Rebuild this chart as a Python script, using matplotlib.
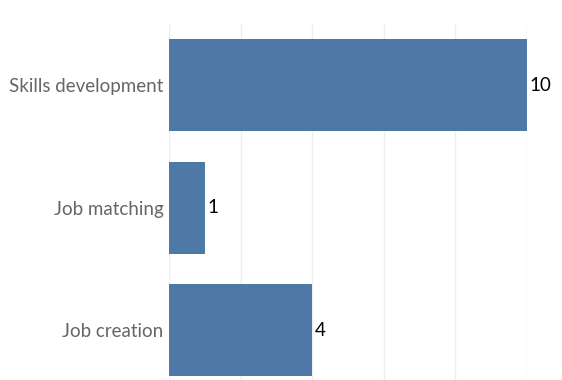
import matplotlib.pyplot as plt

categories = ["Skills development", "Job matching", "Job creation"]
counts = [10, 1, 4]

fig = plt.figure(figsize=(5.62, 3.80), dpi=100)
ax = fig.add_axes([169 / 562, 0, (527 - 169) / 562, 356 / 380])

pos = list(range(len(categories)))
ax.barh(pos, counts, height=0.75, color="#4e79a7", zorder=2)

for y, v in zip(pos, counts):
    ax.text(v + 0.06, y, str(v), va="center", ha="left",
            fontsize=13.5, family="Lato", color="#000000")

ax.set_xlim(0, 10)
ax.set_ylim(2.408, -0.5)
ax.set_xticks([0, 2, 4, 6, 8, 10])
ax.set_xticklabels([])
ax.tick_params(axis="x", length=0)
ax.grid(axis="x", color="#eeeeee", linewidth=1, zorder=0)

ax.set_yticks(pos)
ax.set_yticklabels(categories, fontsize=13.5, family="Lato", color="#666666")
ax.tick_params(axis="y", length=0, pad=4)

for s in ax.spines.values():
    s.set_visible(False)

fig.savefig("out.png", dpi=100)
